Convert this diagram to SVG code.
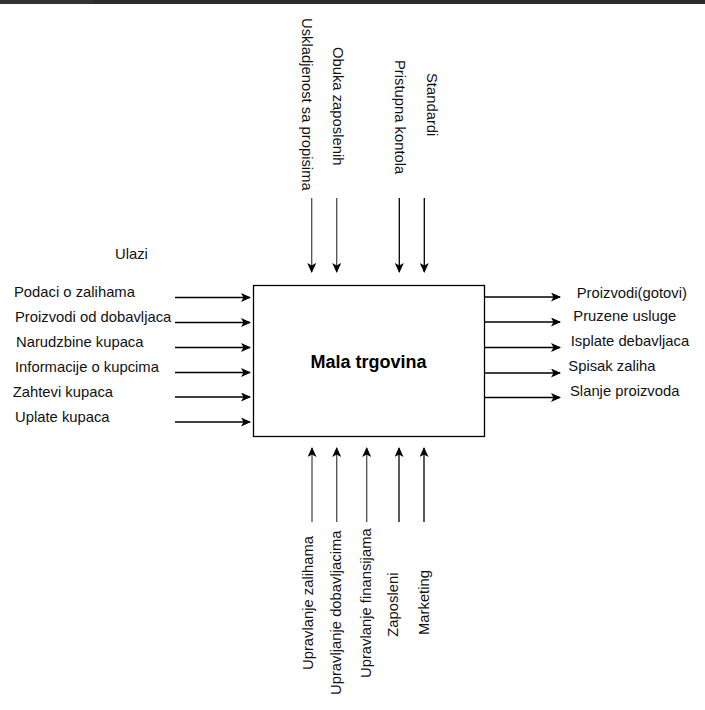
<svg xmlns="http://www.w3.org/2000/svg" width="705" height="710" viewBox="0 0 705 710">
<style>
.lbl{font-family:"Liberation Sans",Arial,sans-serif;font-size:14.8px;fill:#111}
.ttl{font-family:"Liberation Sans",Arial,sans-serif;font-size:18px;font-weight:bold;fill:#000}
.a{stroke:#000;stroke-width:1.3;fill:none;marker-end:url(#ah)}
.g{stroke:#4d4d4d;stroke-width:1.3;fill:none;marker-end:url(#ah)}
</style>
<defs>
<marker id="ah" markerUnits="userSpaceOnUse" markerWidth="12" markerHeight="10" refX="9" refY="4.5" orient="auto">
<path d="M0,0 L10,4.5 L0,9 L2.5,4.5 Z" fill="#000"/>
</marker>
</defs>
<rect x="0" y="0" width="705" height="710" fill="#fff"/>
<rect x="0" y="0" width="705" height="4" fill="#2b2b2b"/>
<rect x="0" y="0" width="93" height="4" fill="#333"/>

<g id="box">
<rect x="253.5" y="285.5" width="231" height="151" fill="#fff" stroke="#000" stroke-width="1.3"/>
<text class="ttl" x="368.5" y="367.5" text-anchor="middle">Mala trgovina</text>
</g>

<g id="connectors">
<path class="a" d="M175,297.5 H250"/>
<path class="a" d="M175,322.5 H250"/>
<path class="a" d="M175,347.5 H250"/>
<path class="a" d="M175,372.5 H250"/>
<path class="a" d="M175,397 H250"/>
<path class="a" d="M175,422 H250"/>
<path class="a" d="M485,297 H560"/>
<path class="a" d="M485,322 H560"/>
<path class="a" d="M485,347.5 H560"/>
<path class="a" d="M485,373 H560"/>
<path class="a" d="M485,397.5 H560"/>
<path class="g" d="M311.7,198 V272"/>
<path class="g" d="M336.7,198 V272"/>
<path class="a" d="M399.3,198 V272"/>
<path class="a" d="M424.3,198 V272"/>
<path class="g" d="M312,522 V448"/>
<path class="g" d="M336.7,522 V448"/>
<path class="g" d="M366.7,522 V448"/>
<path class="a" d="M399,522 V448"/>
<path class="a" d="M424,522 V448"/>
</g>

<g id="inputs">
<text class="lbl" x="115" y="258.5">Ulazi</text>
<text class="lbl" x="14" y="297">Podaci o zalihama</text>
<text class="lbl" x="15" y="322">Proizvodi od dobavljaca</text>
<text class="lbl" x="16" y="347">Narudzbine kupaca</text>
<text class="lbl" x="15" y="372">Informacije o kupcima</text>
<text class="lbl" x="12.7" y="397">Zahtevi kupaca</text>
<text class="lbl" x="15" y="422">Uplate kupaca</text>
</g>

<g id="outputs">
<text class="lbl" x="576.7" y="297.5">Proizvodi(gotovi)</text>
<text class="lbl" x="573.3" y="321">Pruzene usluge</text>
<text class="lbl" x="570.7" y="346.3">Isplate debavljaca</text>
<text class="lbl" x="568.3" y="371.3">Spisak zaliha</text>
<text class="lbl" x="570" y="396.3">Slanje proizvoda</text>
</g>

<g id="controls">
<text class="lbl" transform="translate(301.5,18) rotate(90)">Uskladjenost sa propisima</text>
<text class="lbl" transform="translate(332.5,47) rotate(90)">Obuka zaposlenih</text>
<text class="lbl" transform="translate(394.5,60) rotate(90)">Pristupna kontola</text>
<text class="lbl" transform="translate(426.5,73) rotate(90)">Standardi</text>
</g>

<g id="mechanisms">
<text class="lbl" transform="translate(312.5,670) rotate(-90)">Upravlanje zalihama</text>
<text class="lbl" transform="translate(340.5,695) rotate(-90)">Upravljanje dobavljacima</text>
<text class="lbl" transform="translate(370.5,678) rotate(-90)">Upravlanje finansijama</text>
<text class="lbl" transform="translate(397.5,636.7) rotate(-90)">Zaposleni</text>
<text class="lbl" transform="translate(428.5,635) rotate(-90)">Marketing</text>
</g>
</svg>
